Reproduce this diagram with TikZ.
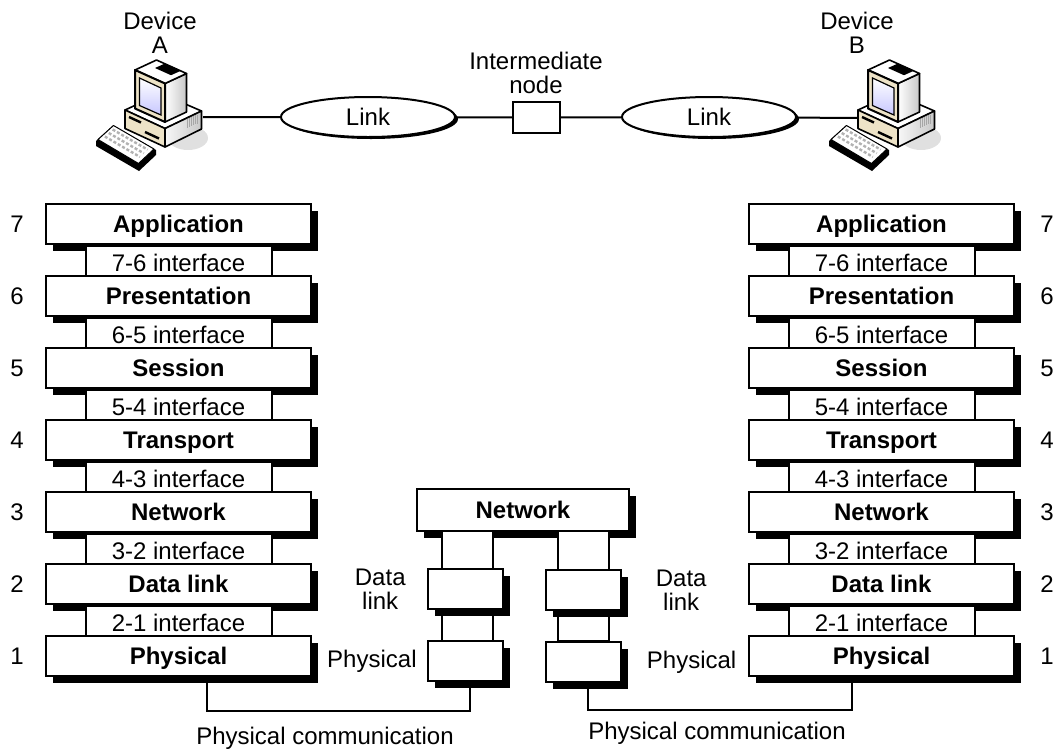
\documentclass[tikz,border=0pt]{standalone}
\usepackage{fontspec}
\setmainfont{Liberation Sans}
\usetikzlibrary{shapes.geometric,shadows,positioning}

\begin{document}
\begin{tikzpicture}[
  x=0.5pt, y=-0.5pt,
  font=\fontsize{12}{12}\selectfont,
  every node/.style={inner sep=0pt},
  ink/.style={draw=black, line width=1pt},
  wire/.style={draw=black, line width=1pt},
  layerbox/.style={ink, fill=white, minimum width=132.5pt, minimum height=20pt,
    text height=8.6pt, text depth=0pt,
    font=\fontsize{12}{12}\selectfont\bfseries,
    general shadow={fill=black, shadow xshift=3.5pt, shadow yshift=-3.5pt}},
  ifbox/.style={ink, fill=white, minimum width=93pt, minimum height=17pt},
  hopbox/.style={layerbox, minimum width=37.5pt, minimum height=20pt},
  pillar/.style={ink, fill=white},
  linkoval/.style={ellipse, ink, fill=white, minimum width=87pt, minimum height=20pt,
    general shadow={fill=black, shadow xshift=1.5pt, shadow yshift=-1pt}},
  computer/.pic={
    % floor shadow
    \fill[black!12] (93,71) ellipse (20 and 12);
    % case
    \filldraw[fill=white, draw=black, line width=0.8pt, line join=round]
      (30,43) -- (66,26.5) -- (106.5,44) -- (70,61.5) -- cycle;
    \filldraw[fill=pcbeige, draw=black, line width=0.8pt, line join=round]
      (30,43) -- (70,61.5) -- (70,80) -- (30,61.5) -- cycle;
    \draw[line width=1.2pt] (34,50) -- (46,55.5);
    \draw[line width=1.2pt] (50,65) -- (64,71.5);
    \shadedraw[left color=black!3, right color=black!22, draw=black, line width=0.8pt, line join=round]
      (70,61.5) -- (106.5,44) -- (106.5,62) -- (70,80) -- cycle;
    \foreach \k in {0,...,5}
      \draw[black!35, line width=0.4pt] ({92+2*\k},{52-\k*0.9}) -- ++(0,9);
    % monitor
    \shadedraw[left color=white, right color=black!22, draw=black, line width=0.8pt, line join=round]
      (70,16.5) -- (91.5,6.5) -- (91.5,45) -- (70,55) -- cycle;
    \filldraw[fill=white, draw=black, line width=0.8pt, line join=round]
      (40,3) -- (61.5,-7) -- (91.5,6.5) -- (70,16.5) -- cycle;
    \fill[black] (60,1) -- (70,-3.5) -- (86,3.7) -- (76,8.2) -- cycle;
    \filldraw[fill=pcbeige, draw=black, line width=1pt, line join=round]
      (40,3) -- (70,16.5) -- (70,55) -- (40,41.5) -- cycle;
    \shadedraw[top color=white, bottom color=blue!22, draw=black, line width=0.6pt]
      (44.5,11) -- (66,21) -- (66,48) -- (44.5,38.5) -- cycle;
    % keyboard
    \fill[black] (1,74) -- (18,58.5) -- (61,83) -- (61,88) -- (44,104) -- (1,79) -- cycle;
    \filldraw[fill=white, draw=black, line width=0.5pt, line join=round]
      (3,72.5) -- (18.5,58.5) -- (59,82) -- (43.5,96.5) -- cycle;
    \foreach \t in {0.25,0.5,0.75}
      \draw[black!30, line width=1.2pt, dash pattern=on 1.5pt off 1pt]
        ({6+15.5*\t},{73-14*\t}) -- ({41+15.5*\t},{93.5-14.5*\t});
  },
]

\definecolor{pcbeige}{HTML}{EDE3C7}

\useasboundingbox (0,0) rectangle (1057,751);

\def\xA{178.5}   % centre of left stack
\def\xB{881.5}   % centre of right stack
\def\dy{72}

% devices and the link between them
\coordinate (pcA) at (203,117);
\coordinate (pcB) at (858,118);
\node[linkoval] (linkA) at (368,117) {Link};
\node[ink, fill=white, minimum width=23.5pt, minimum height=15.5pt] (hop) at (536.5,117.5) {};
\node[linkoval] (linkB) at (709,117) {Link};
\draw[wire] (pcA) -- (linkA) -- (hop) -- (linkB) -- (pcB);

\pic at (95,67) {computer};
\pic at (828,67) {computer};

\node[align=center] (devA) at (160,33) {Device\\A};
\node[align=center] (devB) at (857,33) {Device\\B};
\node[align=center] (hoplbl) at (536,73) {Intermediate\\node};

% the two seven-layer stacks
\foreach \n/\name [count=\i from 0] in {7/Application, 6/Presentation, 5/Session,
    4/Transport, 3/Network, 2/Data link, 1/Physical} {
  \pgfmathsetmacro{\y}{224+\i*\dy}
  \node[layerbox] (lA\n) at (\xA,\y) {\name};
  \node[layerbox] (lB\n) at (\xB,\y) {\name};
  \node (numA\n) at (17,\y) {\n};
  \node (numB\n) at (1047,\y) {\n};
  \ifnum\n>1
    \pgfmathtruncatemacro{\m}{\n-1}
    \node[ifbox, below=0pt of lA\n] (ifA\n) {\n-\m{} interface};
    \node[ifbox, below=0pt of lB\n] (ifB\n) {\n-\m{} interface};
  \fi
}

% intermediate node: network layer over two link/physical columns
\node[layerbox, minimum width=106pt, minimum height=21pt] (netC) at (523,510) {Network};
\foreach \px in {467.5,583.5}
  \filldraw[pillar] (\px-25.5,531) rectangle (\px+25.5,641);
\node[hopbox] (dlL) at (465.5,589) {};
\node[hopbox] (phL) at (465.5,661) {};
\node[hopbox] (dlR) at (583,590) {};
\node[hopbox] (phR) at (583,662) {};

\node[align=center, left=10.5pt of dlL] (dlLtxt) {Data\\link};
\node[left=5pt of phL] (phLtxt) {Physical};
\node[align=center, right=17pt of dlR] (dlRtxt) {Data\\link};
\node[right=12.5pt of phR] (phRtxt) {Physical};

% physical media
\draw[wire] ([xshift=14.25pt]lA1.south) -- ++(0,34) -| ([xshift=2pt]phL.south);
\draw[wire] ([xshift=2.5pt]phR.south) -- ++(0,27) -| ([xshift=-14.75pt]lB1.south);
\node (pcomA) at (325,738) {Physical communication};
\node (pcomB) at (717,733) {Physical communication};

\end{tikzpicture}
\end{document}
